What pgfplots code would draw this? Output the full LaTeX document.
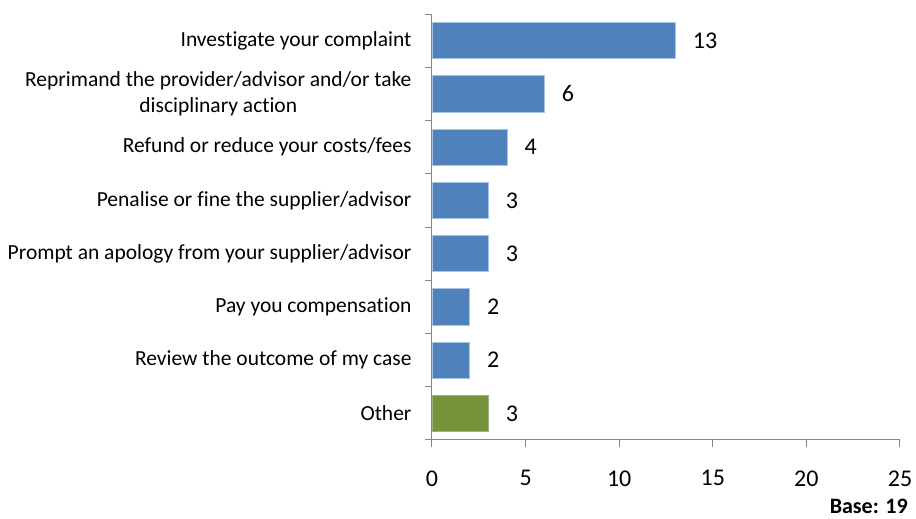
\documentclass[border=0pt]{standalone}
\usepackage{pgfplots}
\pgfplotsset{compat=1.18}
\usepackage{fontspec}
\setmainfont{Carlito}[Ligatures=NoCommon]
\definecolor{barblue}{RGB}{79,129,189}
\definecolor{bargreen}{RGB}{119,147,60}
\definecolor{axgray}{RGB}{134,134,134}
\definecolor{edgeblue}{RGB}{170,195,225}
\begin{document}
\begin{tikzpicture}
\path[use as bounding box] (-432pt,-79pt) rectangle (484pt,440pt);
\begin{axis}[
  at={(0pt,0pt)}, anchor=south west,
  scale only axis, width=468pt, height=426pt,
  xmin=0, xmax=25, ymin=-0.5, ymax=7.5,
  axis x line*=bottom, axis y line*=left,
  axis line style={axgray, line width=1pt, -},
  xtick={0,5,10,15,20,25},
  tick align=outside, major tick length=7pt,
  tick style={axgray, line width=1pt},
  /pgf/number format/assume math mode=true,
  xticklabel style={font=\fontsize{24}{28}\selectfont, black, yshift=-20pt},
  ytick={-0.5,0.5,...,7.5}, yticklabels={},
  extra y ticks={0,1,2,3,4,5,6,7},
  extra y tick labels={Other, Review the outcome of my case, Pay you compensation, Prompt an apology from your supplier/advisor, Penalise or fine the supplier/advisor, Refund or reduce your costs/fees, {Reprimand the provider/advisor and/or take\\disciplinary action}, Investigate your complaint},
  extra y tick style={tick style={draw=none}, yticklabel style={font=\fontsize{21.5}{25.5}\selectfont, align=center, black, xshift=-10pt}},
  xbar, bar width=0.68, bar shift=0pt,
  nodes near coords,
  nodes near coords style={font=\fontsize{24}{28}\selectfont, black, anchor=west, xshift=14pt},
  clip=false,
]
\addplot[fill=barblue, draw=edgeblue, line width=0.6pt] coordinates {(2,1) (2,2) (3,3) (3,4) (4,5) (6,6) (13,7)};
\addplot[fill=bargreen, draw=bargreen!70!white, line width=0.6pt] coordinates {(3,0)};
\node[anchor=base east, font=\fontsize{22}{26}\selectfont\bfseries, inner sep=0pt] at ([xshift=8pt,yshift=-74pt]rel axis cs:1,0) {Base: 19};
\end{axis}
\end{tikzpicture}
\end{document}
